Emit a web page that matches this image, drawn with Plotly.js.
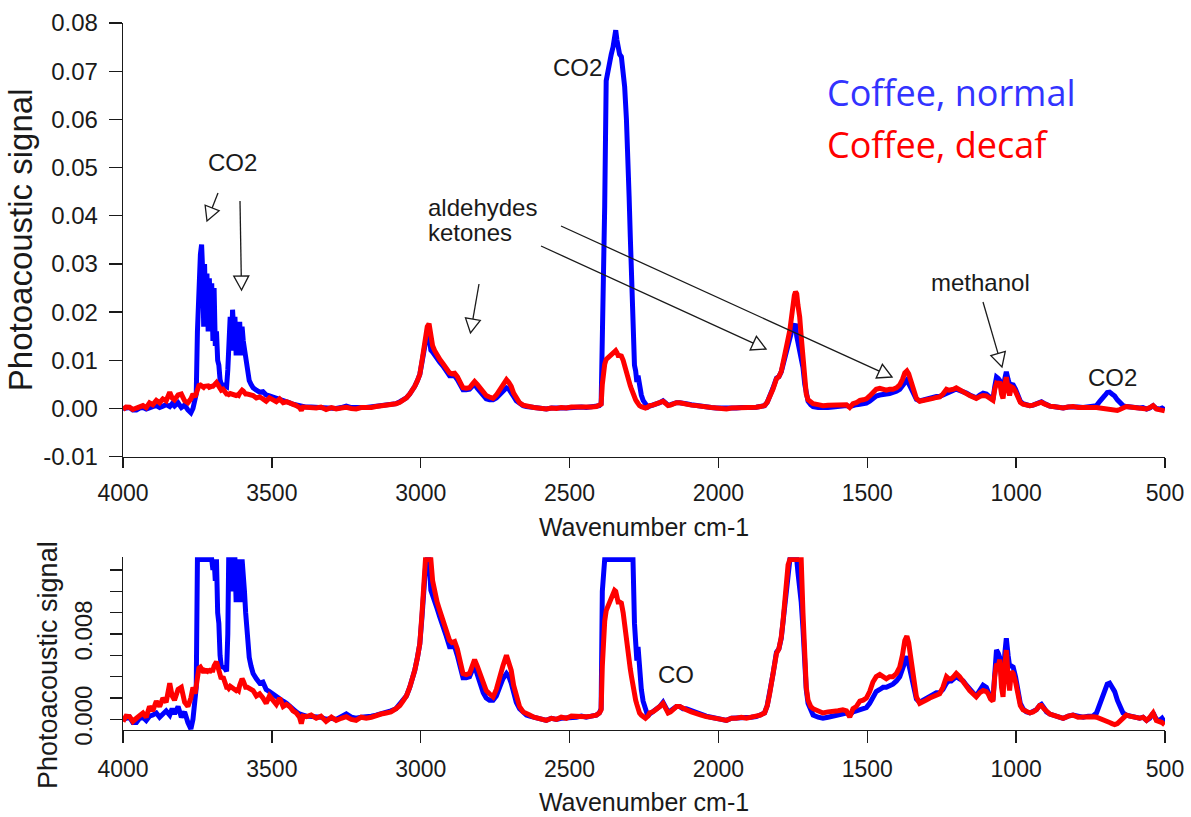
<!DOCTYPE html>
<html><head><meta charset="utf-8">
<script src="https://cdn.plot.ly/plotly-3.0.1.min.js"></script>
<style>html,body{margin:0;padding:0;background:#fff;}#chart{width:1191px;height:817px;}</style>
</head><body><div id="chart"></div>
<script>
// ---------------- DATA ----------------
const wavenumber = [
 4000,3990,3978,3967,3955,3944,3933,3922,3911,3900,3888,3877,3866,3855,3843,3835,3827,3815,3804,3793,3782,3772,3765,3758,
 3754,3750,3745,3740,3736,3732,3729,3726,3722,3718,3714,3710,3706,3702,3698,3694,3690,3686,3682,3678,3674,3670,3664,3658,
 3652,3648,3645,3640,3636,3632,3628,3624,3620,3616,3612,3608,3604,3600,3596,3592,3588,3582,3576,3570,3563,3552,3541,3530,
 3519,3508,3496,3485,3474,3462,3451,3440,3429,3418,3407,3401,3395,3384,3368,3351,3335,3318,3300,3284,3267,3250,3233,3217,
 3200,3183,3166,3150,3133,3116,3100,3083,3070,3060,3048,3037,3028,3020,3011,3003,2996,2990,2984,2978,2972,2966,2960,2953,
 2945,2936,2925,2914,2903,2895,2886,2877,2868,2858,2847,2836,2827,2819,2810,2802,2790,2780,2769,2757,2746,2735,2724,2712,
 2704,2696,2688,2679,2668,2656,2645,2634,2620,2606,2592,2578,2561,2544,2528,2511,2494,2477,2460,2444,2427,2410,2400,2394,
 2390,2386,2382,2377,2371,2365,2360,2354,2349,2345,2341,2337,2332,2326,2320,2315,2309,2304,2300,2296,2292,2287,2282,2278,
 2274,2270,2265,2259,2253,2245,2237,2231,2220,2209,2197,2186,2178,2169,2161,2153,2141,2130,2119,2108,2091,2074,2058,2041,
 2024,2007,1990,1973,1956,1940,1923,1906,1890,1873,1859,1845,1836,1828,1817,1805,1797,1789,1783,1777,1771,1766,1760,1755,
 1749,1745,1741,1737,1733,1727,1722,1716,1710,1705,1699,1690,1682,1665,1649,1632,1615,1598,1582,1570,1559,1548,1537,1525,
 1514,1503,1492,1481,1470,1458,1447,1436,1425,1414,1402,1391,1382,1374,1367,1361,1355,1346,1340,1335,1324,1313,1302,1290,
 1279,1268,1257,1246,1234,1226,1218,1210,1201,1190,1178,1167,1156,1145,1134,1122,1111,1100,1094,1086,1078,1072,1066,1060,
 1055,1049,1044,1038,1033,1027,1022,1016,1010,1002,994,986,977,966,954,943,932,921,915,907,898,887,876,859,
 842,825,809,792,775,758,742,730,719,710,702,694,686,678,669,660,652,641,630,618,607,596,585,574,
 562,551,540,529,518,510,501
];
const coffeeNormal = [
 0.0000,0.0001,0.0002,-0.0003,-0.0003,0.0001,0.0002,-0.0001,0.0003,0.0004,0.0006,0.0002,0.0005,0.0008,0.0004,0.0010,0.0005,0.0012,0.0002,0.0007,-0.0003,-0.0009,0.0000,0.0015,
 0.0030,0.0160,0.0260,0.0320,0.0340,0.0280,0.0170,0.0300,0.0200,0.0280,0.0160,0.0270,0.0190,0.0260,0.0140,0.0250,0.0130,0.0160,0.0100,0.0090,0.0060,0.0050,0.0049,0.0048,
 0.0045,0.0080,0.0150,0.0190,0.0120,0.0205,0.0160,0.0190,0.0110,0.0180,0.0120,0.0180,0.0110,0.0170,0.0140,0.0120,0.0100,0.0075,0.0058,0.0050,0.0043,0.0038,0.0034,0.0035,
 0.0028,0.0026,0.0024,0.0022,0.0020,0.0017,0.0015,0.0012,0.0009,0.0007,0.0005,0.0004,0.0004,0.0003,0.0003,0.0002,0.0002,0.0000,0.0001,0.0000,0.0002,0.0005,0.0002,0.0001,
 0.0002,0.0002,0.0003,0.0004,0.0005,0.0006,0.0008,0.0010,0.0014,0.0017,0.0022,0.0030,0.0038,0.0046,0.0058,0.0071,0.0095,0.0120,0.0142,0.0158,0.0150,0.0121,0.0117,0.0110,
 0.0104,0.0096,0.0088,0.0078,0.0068,0.0068,0.0068,0.0060,0.0048,0.0039,0.0039,0.0040,0.0046,0.0050,0.0042,0.0035,0.0025,0.0020,0.0018,0.0018,0.0022,0.0030,0.0038,0.0043,
 0.0040,0.0034,0.0025,0.0016,0.0010,0.0006,0.0004,0.0003,0.0002,0.0001,0.0000,-0.0001,0.0001,0.0000,0.0001,0.0001,0.0002,0.0002,0.0003,0.0002,0.0003,0.0004,0.0006,0.0010,
 0.0120,0.0300,0.0420,0.0680,0.0705,0.0716,0.0735,0.0750,0.0775,0.0785,0.0765,0.0745,0.0735,0.0730,0.0700,0.0668,0.0600,0.0530,0.0440,0.0356,0.0260,0.0183,0.0090,0.0078,
 0.0055,0.0068,0.0040,0.0028,0.0017,0.0008,0.0003,0.0005,0.0007,0.0009,0.0012,0.0016,0.0012,0.0007,0.0008,0.0010,0.0012,0.0012,0.0010,0.0010,0.0008,0.0006,0.0004,0.0003,
 0.0002,0.0001,0.0001,-0.0001,0.0001,0.0001,0.0002,0.0001,0.0002,0.00025,0.0004,0.0006,0.0013,0.0024,0.0042,0.0063,0.0066,0.0076,0.0090,0.0106,0.0120,0.0135,0.0150,0.0158,
 0.0165,0.0172,0.0176,0.0150,0.0138,0.0125,0.0110,0.0085,0.0050,0.0028,0.0015,0.0008,0.0004,0.0002,0.0001,0.0002,0.0003,0.0004,0.0005,0.0006,0.0004,0.0007,0.0008,0.0009,
 0.0010,0.0011,0.0015,0.0020,0.0026,0.0028,0.0030,0.0030,0.0031,0.0033,0.0036,0.0040,0.0047,0.0055,0.0059,0.0052,0.0043,0.0032,0.0024,0.0019,0.0016,0.0018,0.0020,0.0022,
 0.0024,0.0025,0.0025,0.0028,0.0034,0.0036,0.0036,0.0038,0.0040,0.0038,0.0036,0.0032,0.0028,0.0025,0.0022,0.0028,0.0032,0.0030,0.0026,0.0020,0.0018,0.0045,0.0065,0.0062,
 0.0058,0.0040,0.0030,0.0062,0.0076,0.0060,0.0050,0.0050,0.0049,0.0040,0.0025,0.0015,0.0010,0.0007,0.0006,0.0007,0.0009,0.0013,0.0014,0.0011,0.0007,0.0005,0.0004,0.0003,
 0.0001,0.0003,0.0004,0.0003,0.0002,0.0003,0.0003,0.0006,0.0015,0.0020,0.0027,0.0033,0.0034,0.0030,0.0026,0.0018,0.0012,0.0006,0.0004,0.0003,0.00025,0.0002,0.0001,0.0002,
 -0.0001,0.0001,0.0006,0.0000,-0.0001,0.0001,-0.0003
];
const coffeeDecaf = [
 -0.0002,0.0003,0.00025,-0.0002,0.0001,0.0004,0.0006,0.0002,0.0012,0.0008,0.0017,0.0012,0.0020,0.0016,0.0034,0.0022,0.0018,0.0028,0.0030,0.0016,0.0012,0.0020,0.0030,0.0024,
 0.0030,0.0042,0.0048,0.0049,0.0047,0.0046,0.0044,0.0046,0.0046,0.0045,0.0047,0.0044,0.0046,0.0046,0.0046,0.0050,0.0052,0.0054,0.0050,0.0044,0.0040,0.0038,0.0040,0.0034,
 0.0030,0.0030,0.0029,0.0031,0.0030,0.0030,0.0029,0.0028,0.0027,0.0028,0.0027,0.0032,0.0036,0.0038,0.0036,0.0032,0.0030,0.0030,0.0029,0.0027,0.0027,0.0022,0.0024,0.0020,
 0.0015,0.0022,0.0018,0.0014,0.0020,0.0012,0.0014,0.0012,0.0008,0.0006,0.0002,-0.0004,0.0003,0.00025,0.0004,0.0001,0.0003,-0.0002,0.0002,-0.0001,0.0001,0.00025,0.0000,-0.0001,
 0.0002,0.0001,0.0002,0.0004,0.0005,0.0006,0.0007,0.0010,0.0013,0.0017,0.0022,0.0030,0.0038,0.0046,0.0058,0.0071,0.0098,0.0125,0.0150,0.0170,0.0176,0.0150,0.0130,0.0120,
 0.0110,0.0102,0.0093,0.0083,0.0074,0.0072,0.0073,0.0066,0.0052,0.0043,0.0042,0.0043,0.0050,0.0056,0.0050,0.0044,0.0033,0.0027,0.0024,0.0021,0.0028,0.0040,0.0050,0.0060,
 0.0054,0.0046,0.0032,0.0021,0.0012,0.0007,0.0005,0.0004,0.0002,0.0001,0.0000,-0.0001,0.0001,0.0000,0.0002,0.0001,0.0003,0.00025,0.0002,0.00025,0.0003,0.0004,0.0006,0.0009,
 0.0050,0.0077,0.0092,0.0102,0.0106,0.0110,0.0112,0.0116,0.0121,0.0120,0.0116,0.0110,0.0110,0.0109,0.0100,0.0087,0.0076,0.0065,0.0055,0.0047,0.0040,0.0030,0.0022,0.0018,
 0.0014,0.0010,0.0006,0.0004,0.0002,0.0001,0.0003,0.0006,0.0007,0.0009,0.0012,0.0015,0.0011,0.0006,0.0007,0.0009,0.0012,0.0012,0.0010,0.0009,0.0007,0.0006,0.0004,0.00025,
 0.0002,0.0001,0.0000,-0.0001,0.0001,0.0001,0.0002,0.0001,0.0002,0.00025,0.0004,0.0006,0.0013,0.0024,0.0040,0.0062,0.0066,0.0077,0.0092,0.0110,0.0128,0.0145,0.0163,0.0190,
 0.0218,0.0235,0.0242,0.0238,0.0215,0.0190,0.0150,0.0100,0.0056,0.0030,0.0018,0.0012,0.0010,0.0008,0.0006,0.0007,0.0007,0.0008,0.0009,0.0008,0.0002,0.0010,0.0012,0.0017,
 0.0018,0.0020,0.0026,0.0035,0.0040,0.0042,0.0040,0.0038,0.0040,0.0040,0.0043,0.0049,0.0060,0.0074,0.0078,0.0072,0.0060,0.0040,0.0028,0.0021,0.0015,0.0016,0.0018,0.0020,
 0.0021,0.0023,0.0024,0.0030,0.0040,0.0038,0.0038,0.0040,0.0043,0.0040,0.0035,0.0031,0.0027,0.0024,0.0021,0.0025,0.0027,0.0026,0.0024,0.0019,0.0017,0.0040,0.0052,0.0050,
 0.0056,0.0030,0.0021,0.0050,0.0065,0.0040,0.0027,0.0045,0.0043,0.0035,0.0021,0.0013,0.0009,0.0007,0.0006,0.0007,0.0009,0.0013,0.0013,0.0010,0.0007,0.0005,0.0004,0.0002,
 0.0001,0.0003,0.0004,0.0002,0.00025,0.0003,0.00025,0.0002,0.0001,0.0000,-0.0001,-0.0002,-0.0003,-0.0004,-0.0005,-0.0004,-0.0002,0.0001,0.0004,0.0003,0.00025,0.0002,0.0001,0.0002,
 -0.0001,0.0002,0.0006,-0.0001,-0.0002,-0.0003,-0.0005
];
const seriesNames = ['Coffee, normal', 'Coffee, decaf'];
const xTickVals = [4000, 3500, 3000, 2500, 2000, 1500, 1000, 500];
const yTickValsTop = [-0.01, 0, 0.01, 0.02, 0.03, 0.04, 0.05, 0.06, 0.07, 0.08];
const yTickTextTop = ['-0.01', '0.00', '0.01', '0.02', '0.03', '0.04', '0.05', '0.06', '0.07', '0.08'];
const yTickValsBottom = [0, 0.002, 0.004, 0.006, 0.008, 0.010, 0.012, 0.014];
const yTickTextBottom = ['0.000', '', '', '', '0.008', '', '', ''];
const axisTitleX = 'Wavenumber cm-1';
const axisTitleY = 'Photoacoustic signal';

// ---------------- LAYOUT HELPERS ----------------
const W = 1191, H = 817;
const M = {l: 123, r: 26, t: 23, b: 87};
const PW = W - M.l - M.r, PH = H - M.t - M.b;
const xp = px => (px - M.l) / PW;
const yp = py => 1 - (py - M.t) / PH;
const FONT = 'Liberation Sans, Arial, Helvetica, sans-serif';
const INK = '#1a1a1a';

const bottomTop = 0.0152;
const bottomClip = 0.0150;
const clip = arr => arr.map(v => Math.min(v, bottomClip));

const blue = '#0000ff', red = '#ff0000';
const LW = 5;
const traces = [
  {x: wavenumber, y: coffeeNormal, xaxis: 'x', yaxis: 'y', type: 'scatter', mode: 'lines', name: seriesNames[0], line: {color: blue, width: LW}, showlegend: false},
  {x: wavenumber, y: coffeeDecaf, xaxis: 'x', yaxis: 'y', type: 'scatter', mode: 'lines', name: seriesNames[1], line: {color: red, width: LW}, showlegend: false},
  {x: wavenumber, y: clip(coffeeNormal), xaxis: 'x2', yaxis: 'y2', type: 'scatter', mode: 'lines', name: seriesNames[0], line: {color: blue, width: LW}, showlegend: false},
  {x: wavenumber, y: clip(coffeeDecaf), xaxis: 'x2', yaxis: 'y2', type: 'scatter', mode: 'lines', name: seriesNames[1], line: {color: red, width: LW}, showlegend: false}
];

const axisBase = {
  showline: true, linecolor: INK, linewidth: 1.3, showgrid: false, zeroline: false,
  ticks: 'outside', tickcolor: INK, tickwidth: 1.3, tickfont: {family: FONT, size: 23, color: INK},
  fixedrange: true
};

// arrows: open triangle heads, in pixel coordinates
const shapes = [];
function arrow(x0, y0, x1, y1) {
  const dx = x1 - x0, dy = y1 - y0, L = Math.hypot(dx, dy);
  const ux = dx / L, uy = dy / L, h = 14, w = 7.5;
  const bx = x1 - ux * h, by = y1 - uy * h;
  const px = -uy, py = ux;
  shapes.push({type: 'line', xref: 'paper', yref: 'paper', x0: xp(x0), y0: yp(y0), x1: xp(bx), y1: yp(by), line: {color: INK, width: 1.3}});
  const pts = [[x1, y1], [bx + px * w, by + py * w], [bx - px * w, by - py * w]];
  const path = 'M ' + pts.map(p => xp(p[0]).toFixed(5) + ',' + yp(p[1]).toFixed(5)).join(' L ') + ' Z';
  shapes.push({type: 'path', xref: 'paper', yref: 'paper', path: path, fillcolor: 'white', line: {color: INK, width: 1.3}});
}
arrow(218, 193, 207, 221);
arrow(240, 201, 241.5, 290);
arrow(479, 284, 470.5, 333);
arrow(561, 226, 892, 377);
arrow(541, 246, 766, 349);
arrow(983, 302, 1002, 367);

function label(text, cx, cy, size, color, family, xanchor, angle) {
  return {text: text, xref: 'paper', yref: 'paper', x: xp(cx), y: yp(cy), xanchor: xanchor || 'center', yanchor: 'middle',
          textangle: angle || 0, showarrow: false, font: {family: family || FONT, size: size, color: color || INK}};
}
const annotations = [
  label('CO2', 232, 162, 24),
  label('CO2', 577, 67, 24),
  label('aldehydes', 426, 207, 24, INK, FONT, 'left'),
  label('ketones', 426, 232, 24, INK, FONT, 'left'),
  label('methanol', 980, 282, 24),
  label('CO2', 1112, 377, 24),
  label('CO', 676, 674, 24),
  label(seriesNames[0], 825, 93, 36, '#3333ff', 'Open Sans, Noto Sans, sans-serif', 'left'),
  label(seriesNames[1], 825, 145, 36, '#ff0000', 'Open Sans, Noto Sans, sans-serif', 'left'),
  label(axisTitleY, 48, 665, 27, INK, FONT, 'center', -90)
];

const layout = {
  width: W, height: H, margin: M, paper_bgcolor: '#fff', plot_bgcolor: '#fff', showlegend: false,
  font: {family: FONT, color: INK},
  xaxis: Object.assign({}, axisBase, {domain: [0, 1], anchor: 'y', range: [4000, 500], tickvals: xTickVals, ticklen: 10, ticklabelstandoff: 5,
    title: {text: axisTitleX, font: {family: FONT, size: 25, color: INK}, standoff: 14}}),
  yaxis: Object.assign({}, axisBase, {domain: [yp(456.7), 1], anchor: 'x', range: [-0.01, 0.08], tickvals: yTickValsTop, ticktext: yTickTextTop, ticklen: 13, ticklabelstandoff: 6,
    tickfont: {family: FONT, size: 24, color: INK},
    title: {text: axisTitleY, font: {family: FONT, size: 33, color: INK}, standoff: 0}}),
  xaxis2: Object.assign({}, axisBase, {domain: [0, 1], anchor: 'y2', range: [4000, 500], tickvals: xTickVals, ticklen: 12, ticklabelstandoff: 6,
    title: {text: axisTitleX, font: {family: FONT, size: 25, color: INK}, standoff: 12}}),
  yaxis2: Object.assign({}, axisBase, {domain: [0, yp(557.3)], anchor: 'x2', range: [-0.001, bottomTop], tickvals: yTickValsBottom, ticktext: yTickTextBottom, ticklen: 12, tickangle: -90, ticklabelstandoff: 8,
    tickfont: {family: FONT, size: 24, color: INK}}),
  shapes: shapes,
  annotations: annotations
};

Plotly.newPlot('chart', traces, layout, {staticPlot: true, displayModeBar: false});
</script>
</body></html>
